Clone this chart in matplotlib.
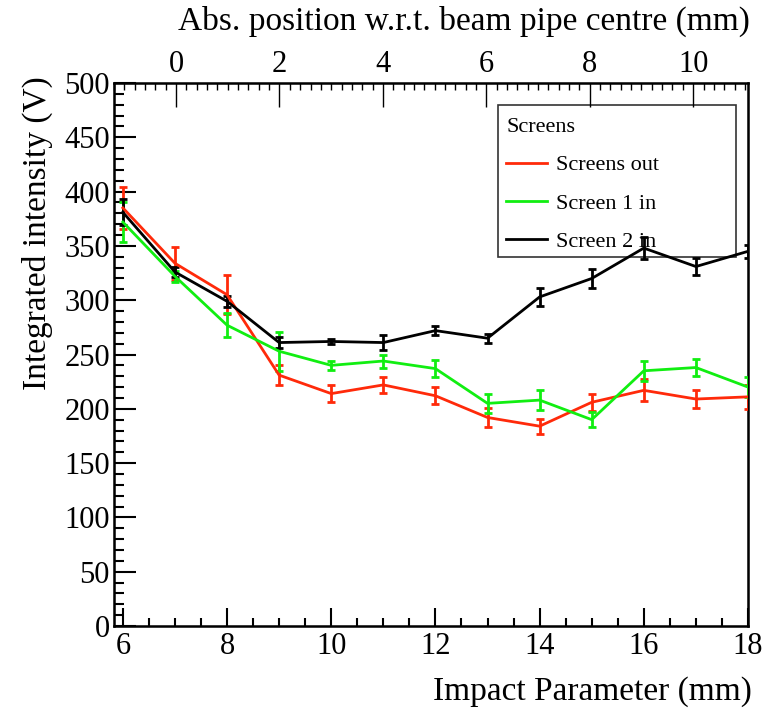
import matplotlib
matplotlib.use("Agg")
import matplotlib.pyplot as plt
from matplotlib.lines import Line2D
from matplotlib.patches import Rectangle
from matplotlib.ticker import MultipleLocator

impact = [6, 7, 8, 9, 10, 11, 12, 13, 14, 15, 16, 17, 18]
screens_out = [385, 334, 305, 231, 214, 222, 212, 192, 184, 206, 217, 209, 211]
screens_out_err = [19, 15, 18, 9, 8, 7, 8, 9, 7, 8, 10, 8, 11]
screen1_in = [372, 322, 277, 253, 240, 244, 237, 205, 208, 190, 235, 238, 220]
screen1_in_err = [18, 5, 11, 18, 4, 6, 8, 9, 9, 7, 9, 8, 9]
screen2_in = [381, 326, 299, 261, 262, 261, 272, 265, 303, 320, 348, 331, 345]
screen2_in_err = [12, 5, 5, 5, 2, 7, 4, 4, 8, 9, 10, 8, 6]

series = [
    ("Screens out", screens_out, screens_out_err, "#ff2a0a"),
    ("Screen 1 in", screen1_in, screen1_in_err, "#11ee11"),
    ("Screen 2 in", screen2_in, screen2_in_err, "#000000"),
]

plt.rcParams['font.family'] = ['Liberation Serif', 'DejaVu Serif']

W, H = 767, 712
fig = plt.figure(figsize=(W/100, H/100), dpi=100)
ax = fig.add_axes([114/W, 1-626/H, (748-114)/W, (626-83)/H])

for name, vals, errs, col in series:
    ax.errorbar(impact, vals, yerr=errs, color=col, lw=2, elinewidth=2,
                capsize=3, capthick=2, label=name, zorder=3)

ax.set_xlim(5.83, 18.0)
ax.set_ylim(0, 500)
ax.xaxis.set_major_locator(MultipleLocator(2))
ax.xaxis.set_minor_locator(MultipleLocator(0.5))
ax.yaxis.set_major_locator(MultipleLocator(50))
ax.yaxis.set_minor_locator(MultipleLocator(10))
ax.tick_params(axis='both', which='both', direction='in', labelsize=22,
               top=False, right=False, width=1.5)
ax.tick_params(axis='x', which='major', length=13, pad=4)
ax.tick_params(axis='x', which='minor', length=6)
ax.tick_params(axis='y', which='major', length=16, pad=3)
ax.tick_params(axis='y', which='minor', length=7)
for s in ax.spines.values():
    s.set_linewidth(1.8)

ax2 = ax.twiny()
ax2.set_xlim(-1.2, 11.06)
ax2.xaxis.set_major_locator(MultipleLocator(2))
ax2.xaxis.set_minor_locator(MultipleLocator(0.2))
ax2.tick_params(axis='x', which='both', direction='in', labelsize=22, width=1)
ax2.tick_params(axis='x', which='major', length=17, pad=3)
ax2.tick_params(axis='x', which='minor', length=5)

fig.text(752/W, 1-692/H, "Impact Parameter (mm)", fontsize=24,
         ha='right', va='center')
fig.text(37/W, 1-76/H, "Integrated intensity (V)", fontsize=24,
         rotation=90, ha='center', va='top')
fig.text(750/W, 1-21/H, "Abs. position w.r.t. beam pipe centre (mm)",
         fontsize=24, ha='right', va='center')

# legend frame (drawn beneath the data, as in the reference)
x0, x1 = (498-114)/634, (736-114)/634
y0, y1 = (626-257)/543, (626-105)/543
ax.add_patch(Rectangle((x0, y0), x1-x0, y1-y0, transform=ax.transAxes,
                       facecolor='white', edgecolor='#333333', lw=1.2, zorder=1))
handles = [Line2D([], [], color=c, lw=2) for _, _, _, c in series]
labels = [n for n, _, _, _ in series]
leg = ax.legend(handles, labels, title="Screens", loc='upper left',
                bbox_to_anchor=((506-114)/634, (626-118)/543),
                fontsize=16, title_fontsize=16, frameon=False,
                handlelength=1.85, handletextpad=0.4,
                labelspacing=0.8, borderpad=0, borderaxespad=0)
leg._legend_box.align = "left"
leg.set_zorder(2)

fig.savefig("out.png", dpi=100)
